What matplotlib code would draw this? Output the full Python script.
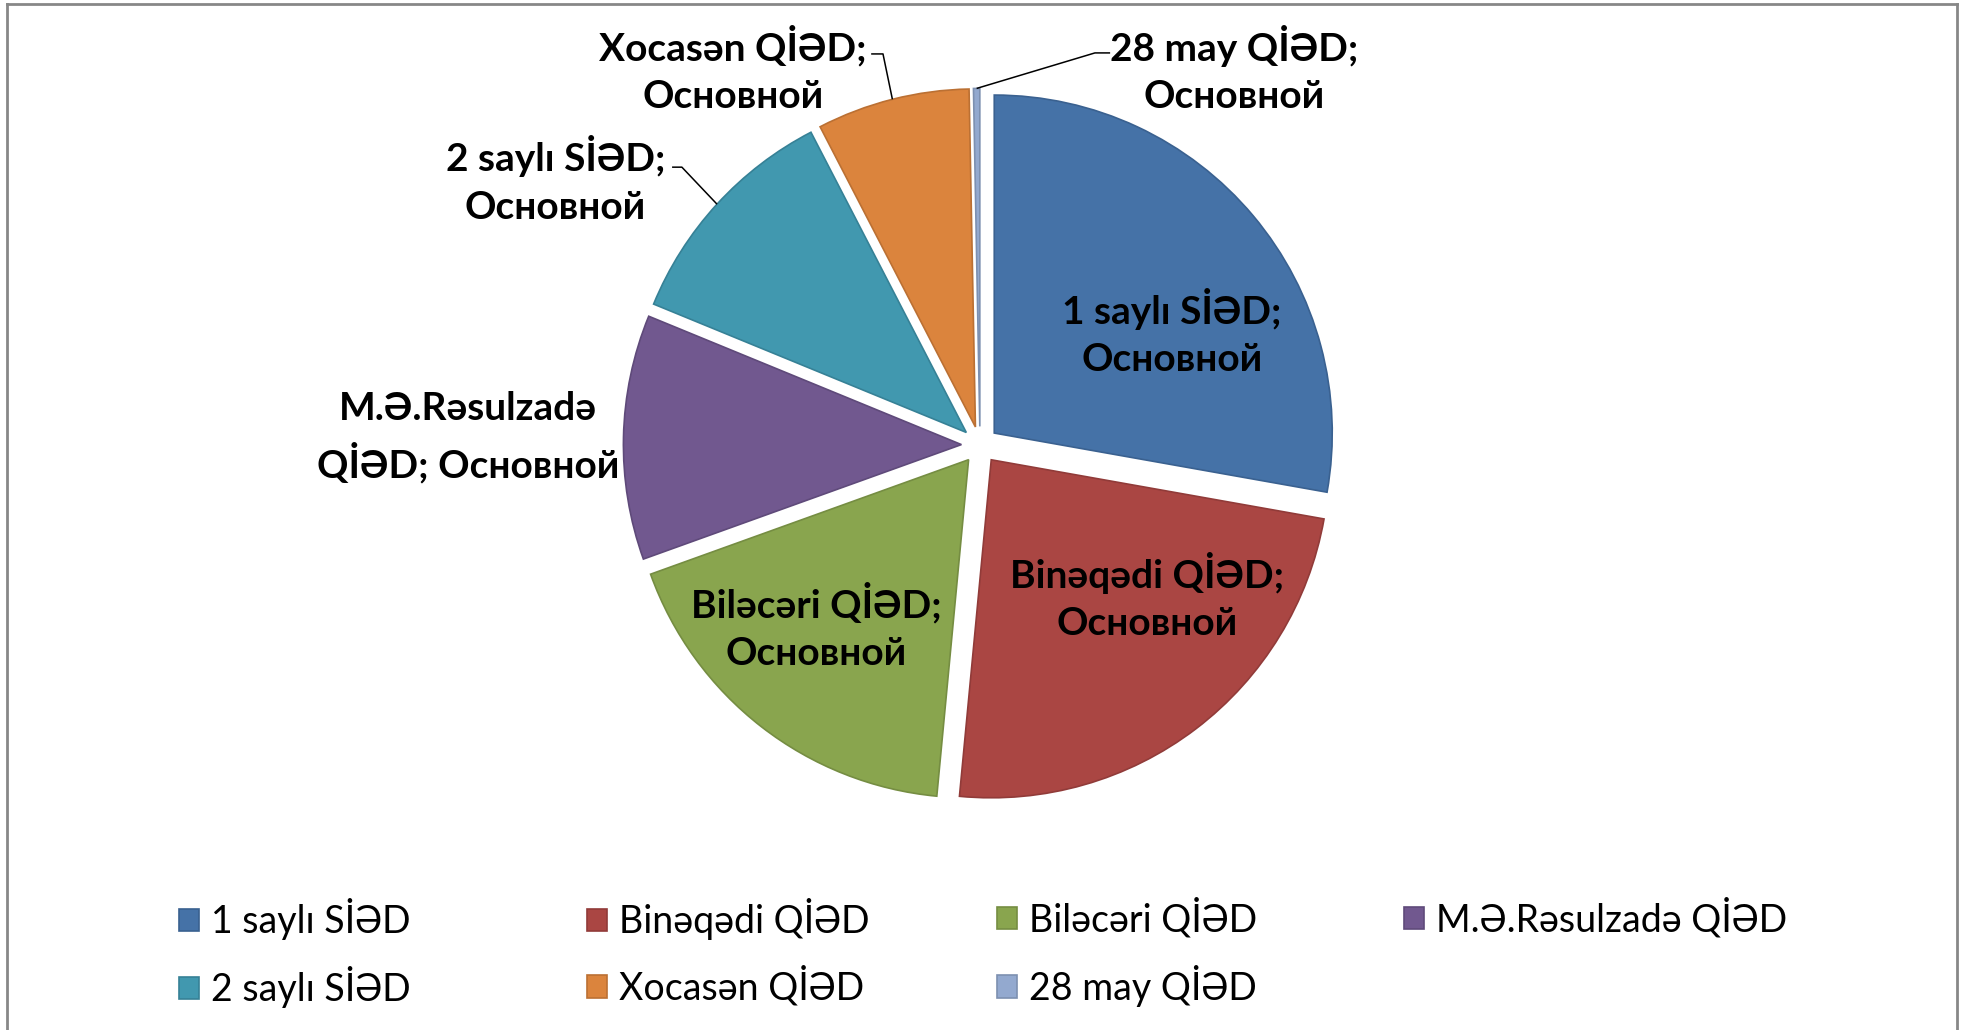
import textwrap
import matplotlib
matplotlib.use('Agg')
import matplotlib.pyplot as plt
import numpy as np
from matplotlib.lines import Line2D

# ---------------- data ----------------
categories = ['1 saylı SİƏD', 'Binəqədi QİƏD', 'Biləcəri QİƏD', 'M.Ə.Rəsulzadə QİƏD',
              '2 saylı SİƏD', 'Xocasən QİƏD', '28 may QİƏD']
series_name = 'Основной'
values = [27.8, 23.7, 18.0, 11.7, 11.2, 7.3, 0.3]

# ---------------- style ----------------
colors = ['#4572A7', '#AA4643', '#89A54E', '#71588F', '#4198AF', '#DB843D', '#93A9CF']
edges = ['#3A6190', '#913B39', '#758D42', '#5F4A7A', '#368196', '#BB7033', '#7D90B0']
FONT = ['Lato', 'DejaVu Sans']
plt.rcParams['font.family'] = FONT

# label centres (data units, pie radius = 1)
label_pos = [(0.567, 0.333), (0.493, -0.448), (-0.485, -0.537), (-1.515, 0.022),
             (-1.256, 0.785), (-0.730, 1.111), (0.752, 1.111)]
# leader lines: (elbow, end) for outside labels
leaders = {4: [(-0.882, 0.822), (-0.911, 0.822)],
           5: [(-0.287, 1.157), (-0.322, 1.157)],
           6: [(0.340, 1.160), (0.385, 1.160)]}

W, H = 1966, 1030
fig = plt.figure(figsize=(W / 100, H / 100), dpi=100)
cx, cy, R = 980, 445, 338
xl, yl = 1.7, 1.25
ax = fig.add_axes([(cx - xl * R) / W, (H - cy - yl * R) / H, 2 * xl * R / W, 2 * yl * R / H])

wedges, _ = ax.pie(values, startangle=90, counterclock=False, explode=[0.055] * len(values),
                   colors=colors, wedgeprops=dict(linewidth=1.2))
for w, ec in zip(wedges, edges):
    w.set_edgecolor(ec)
ax.set_xlim(-xl, xl)
ax.set_ylim(-yl, yl)
ax.set_aspect('equal', adjustable='box')
ax.axis('off')

for i, (w, cat) in enumerate(zip(wedges, categories)):
    txt = textwrap.fill(f'{cat}; {series_name}', width=14)
    x, y = label_pos[i]
    ax.text(x, y, txt, ha='center', va='center', fontsize=28, fontweight='bold',
            color='black', linespacing=1.44, family=FONT)
    if i in leaders:
        mid = np.deg2rad((w.theta1 + w.theta2) / 2)
        px = w.center[0] + w.r * np.cos(mid)
        py = w.center[1] + w.r * np.sin(mid)
        (ex, ey), (tx, ty) = leaders[i]
        ax.plot([px, ex, tx], [py, ey, ty], color='black', lw=1.1, solid_capstyle='butt')

# legend: four columns at equal stride
col_x = [179, 587, 997, 1404]
ncol = 4
for j in range(ncol):
    idx = [k for k in (j, j + ncol) if k < len(categories)]
    fig.legend([wedges[k] for k in idx], [categories[k] for k in idx],
               loc='upper left', bbox_to_anchor=(col_x[j] / W, (H - 898) / H),
               frameon=False, handlelength=0.53, handleheight=0.53,
               handletextpad=0.33, labelspacing=0.7, borderpad=0, borderaxespad=0,
               prop=dict(family=FONT, size=27))

# chart-area border (open at bottom)
bc = '#878787'
fig.add_artist(Line2D([7 / W, 7 / W], [0, 1 - 4 / H], color=bc, lw=2.0))
fig.add_artist(Line2D([7 / W, 1957 / W], [1 - 4 / H, 1 - 4 / H], color=bc, lw=2.0))
fig.add_artist(Line2D([1957 / W, 1957 / W], [0, 1 - 4 / H], color=bc, lw=2.0))

fig.savefig('out.png', dpi=100, facecolor='white')
